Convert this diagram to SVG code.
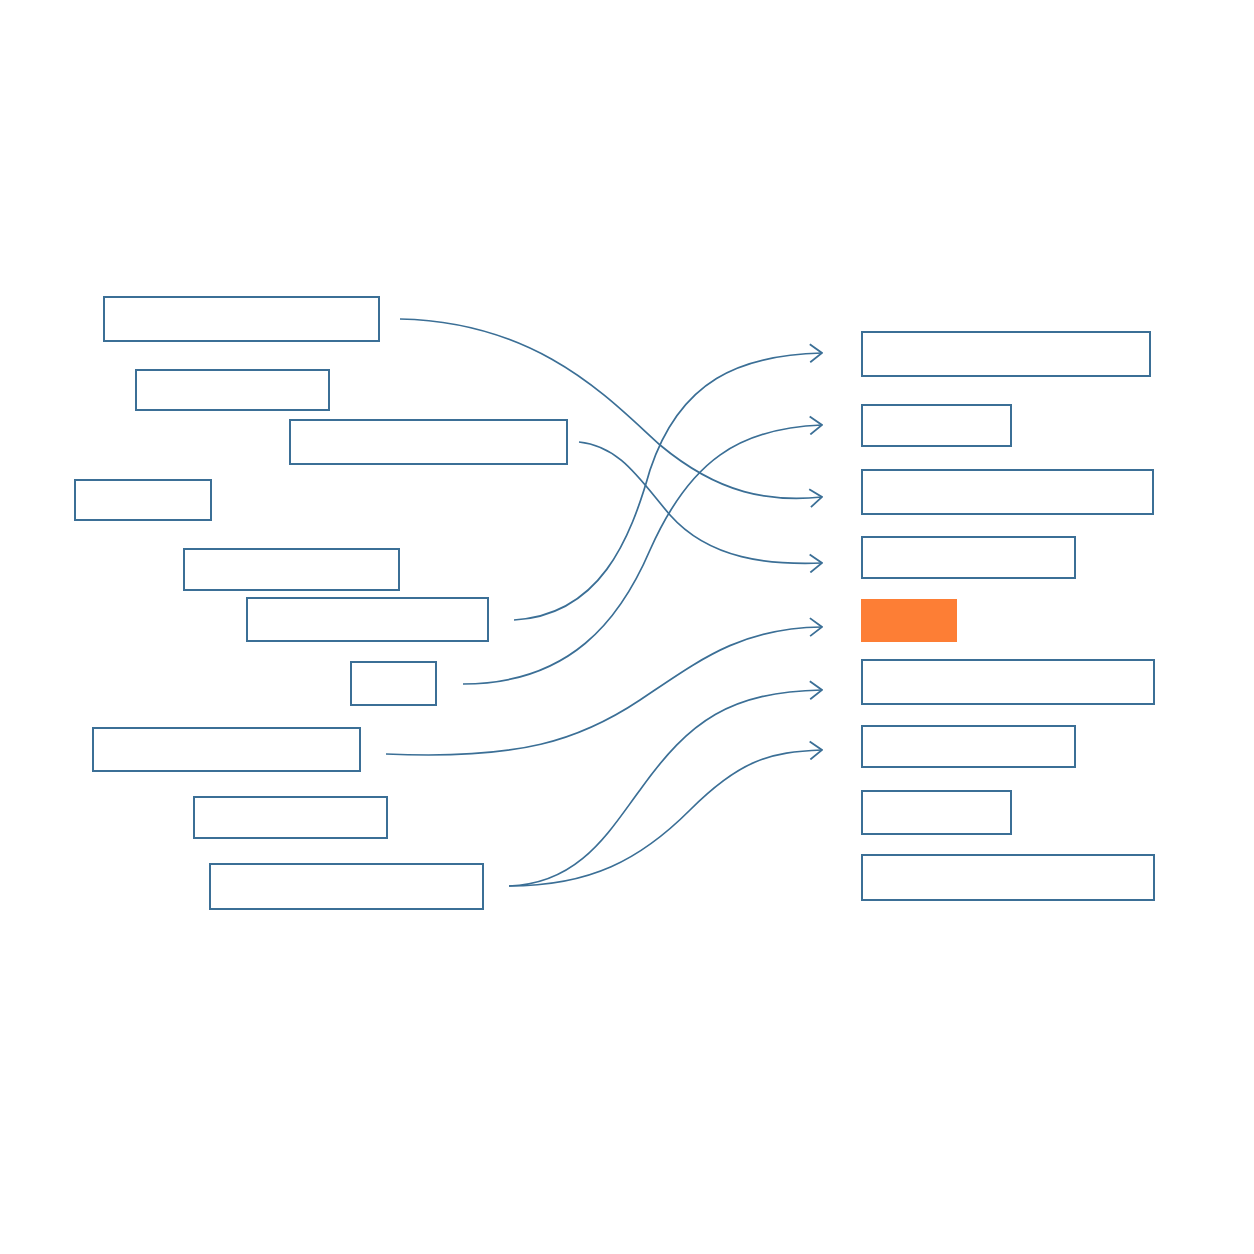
<svg xmlns="http://www.w3.org/2000/svg" width="1254" height="1254" viewBox="0 0 1254 1254">
<defs>
<style>
.box{fill:#ffffff;stroke:#3b6f96;stroke-width:2}
.hl{fill:#fd7e35;stroke:none}
.link{fill:none;stroke:#3b6f96;stroke-width:1.7;marker-end:url(#arr)}
</style>
<marker id="arr" viewBox="0 0 14 20" refX="13" refY="10" markerWidth="14" markerHeight="20" markerUnits="userSpaceOnUse" orient="auto">
<path d="M1,1 L13,10 L1,19" fill="none" stroke="#3b6f96" stroke-width="1.8"/>
</marker>
</defs>
<rect width="1254" height="1254" fill="#ffffff"/>
<g id="L1"><rect class="box" x="104" y="297" width="275" height="44"/></g>
<g id="L2"><rect class="box" x="136" y="370" width="193" height="40"/></g>
<g id="L3"><rect class="box" x="290" y="420" width="277" height="44"/></g>
<g id="L4"><rect class="box" x="75" y="480" width="136" height="40"/></g>
<g id="L5"><rect class="box" x="184" y="549" width="215" height="41"/></g>
<g id="L6"><rect class="box" x="247" y="598" width="241" height="43"/></g>
<g id="L7"><rect class="box" x="351" y="662" width="85" height="43"/></g>
<g id="L8"><rect class="box" x="93" y="728" width="267" height="43"/></g>
<g id="L9"><rect class="box" x="194" y="797" width="193" height="41"/></g>
<g id="L10"><rect class="box" x="210" y="864" width="273" height="45"/></g>
<g id="R1"><rect class="box" x="862" y="332" width="288" height="44"/></g>
<g id="R2"><rect class="box" x="862" y="405" width="149" height="41"/></g>
<g id="R3"><rect class="box" x="862" y="470" width="291" height="44"/></g>
<g id="R4"><rect class="box" x="862" y="537" width="213" height="41"/></g>
<g id="R5"><rect class="hl" x="861" y="599" width="96" height="43"/></g>
<g id="R6"><rect class="box" x="862" y="660" width="292" height="44"/></g>
<g id="R7"><rect class="box" x="862" y="726" width="213" height="41"/></g>
<g id="R8"><rect class="box" x="862" y="791" width="149" height="43"/></g>
<g id="R9"><rect class="box" x="862" y="855" width="292" height="45"/></g>
<g id="connectors">
<path class="link" d="M400,319 C540,322 610,400 660,445 C720,495 770,502 822,497"/>
<path class="link" d="M579,442 C620,446 640,480 670,515 C710,560 770,565 822,563"/>
<path class="link" d="M514,620 C600,615 630,540 650,470 C680,380 740,355 822,353"/>
<path class="link" d="M463,684 C570,684 620,620 650,550 C690,460 740,428 822,425"/>
<path class="link" d="M386,754 C520,760 580,740 640,700 C700,660 740,628 822,627"/>
<path class="link" d="M509,886 C580,884 610,830 640,790 C690,720 730,692 822,690"/>
<path class="link" d="M509,886 C590,886 640,860 690,810 C740,760 770,752 822,750"/>
</g>
</svg>
